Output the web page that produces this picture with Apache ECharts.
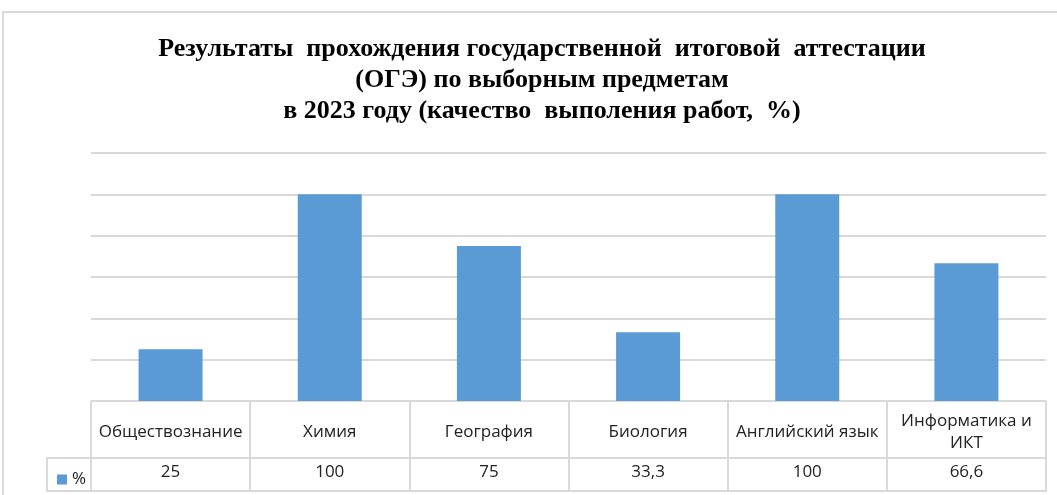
<!DOCTYPE html>
<html>
<head>
<meta charset="utf-8">
<script src="https://cdn.jsdelivr.net/npm/echarts@6/dist/echarts.min.js"></script>
<style>
    html, body { margin: 0; padding: 0; background: #fff; }
    #chart { width: 1057px; height: 495px; }
</style>
</head>
<body>
<div id="chart"></div>

<script>
    var subjects = ['Обществознание', 'Химия', 'География', 'Биология', 'Английский язык', 'Информатика и ИКТ'];
    var quality = [25, 100, 75, 33.3, 100, 66.6];
    var valueLabels = ['25', '100', '75', '33,3', '100', '66,6'];

    var myChart = echarts.init(document.getElementById('chart'));

    var lineColor = '#d9d9d9';
    var tableFont = "'Open Sans', sans-serif";

    var option = {
        backgroundColor: '#fff',
        animation: false,
        title: {
            text: 'Результаты  прохождения государственной  итоговой  аттестации\n(ОГЭ) по выборным предметам\nв 2023 году (качество  выполения работ,  %)',
            left: 537,
            textAlign: 'center',
            top: 29,
            textStyle: {
                fontFamily: "'Liberation Serif', serif",
                fontWeight: 'bold',
                fontSize: 26,
                lineHeight: 31,
                color: '#000'
            }
        },
        legend: {
            data: ['%'],
            left: 52,
            top: 466,
            icon: 'rect',
            itemWidth: 10,
            itemHeight: 10,
            itemGap: 4,
            textStyle: { fontFamily: tableFont, fontSize: 17, color: '#222' }
        },
        grid: {
            left: 91,
            right: 11,
            top: 153,
            bottom: 94
        },
        xAxis: [
            {
                type: 'category',
                data: subjects,
                position: 'bottom',
                axisLine: { show: true, lineStyle: { color: lineColor, width: 1 } },
                axisTick: { show: true, interval: 0, length: 90, lineStyle: { color: lineColor, width: 2 } },
                axisLabel: {
                    interval: 0,
                    margin: 31,
                    verticalAlign: 'middle',
                    lineHeight: 22,
                    fontFamily: tableFont,
                    fontSize: 17,
                    color: '#222',
                    formatter: function (v) { return v.replace(' и ИКТ', ' и\nИКТ'); }
                }
            },
            {
                type: 'category',
                data: valueLabels,
                position: 'bottom',
                offset: 57,
                axisLine: { show: true, lineStyle: { color: lineColor, width: 2 } },
                axisTick: { show: false },
                axisLabel: {
                    interval: 0,
                    margin: 14,
                    verticalAlign: 'middle',
                    fontFamily: tableFont,
                    fontSize: 17,
                    color: '#222'
                }
            },
            {
                type: 'category',
                data: subjects,
                position: 'bottom',
                offset: 90,
                axisLine: { show: true, lineStyle: { color: lineColor, width: 2 } },
                axisTick: { show: false },
                axisLabel: { show: false }
            }
        ],
        yAxis: {
            type: 'value',
            min: 0,
            max: 120,
            interval: 20,
            axisLine: { show: false },
            axisTick: { show: false },
            axisLabel: { show: false },
            splitLine: { lineStyle: { color: lineColor, width: 2 } }
        },
        series: [{
            name: '%',
            type: 'bar',
            data: quality,
            barWidth: 64,
            itemStyle: { color: '#5b9bd5' }
        }],
        graphic: [
            {
                type: 'rect',
                shape: { x: 3, y: 12, width: 1200, height: 600 },
                style: { fill: 'none', stroke: lineColor, lineWidth: 2 },
                silent: true
            },
            {
                type: 'polyline',
                shape: { points: [[91, 458], [47, 458], [47, 491], [91, 491]] },
                style: { fill: 'none', stroke: lineColor, lineWidth: 2 },
                silent: true
            }
        ]
    };

    myChart.setOption(option);
    window.onresize = myChart.resize;
</script>
</body>
</html>
